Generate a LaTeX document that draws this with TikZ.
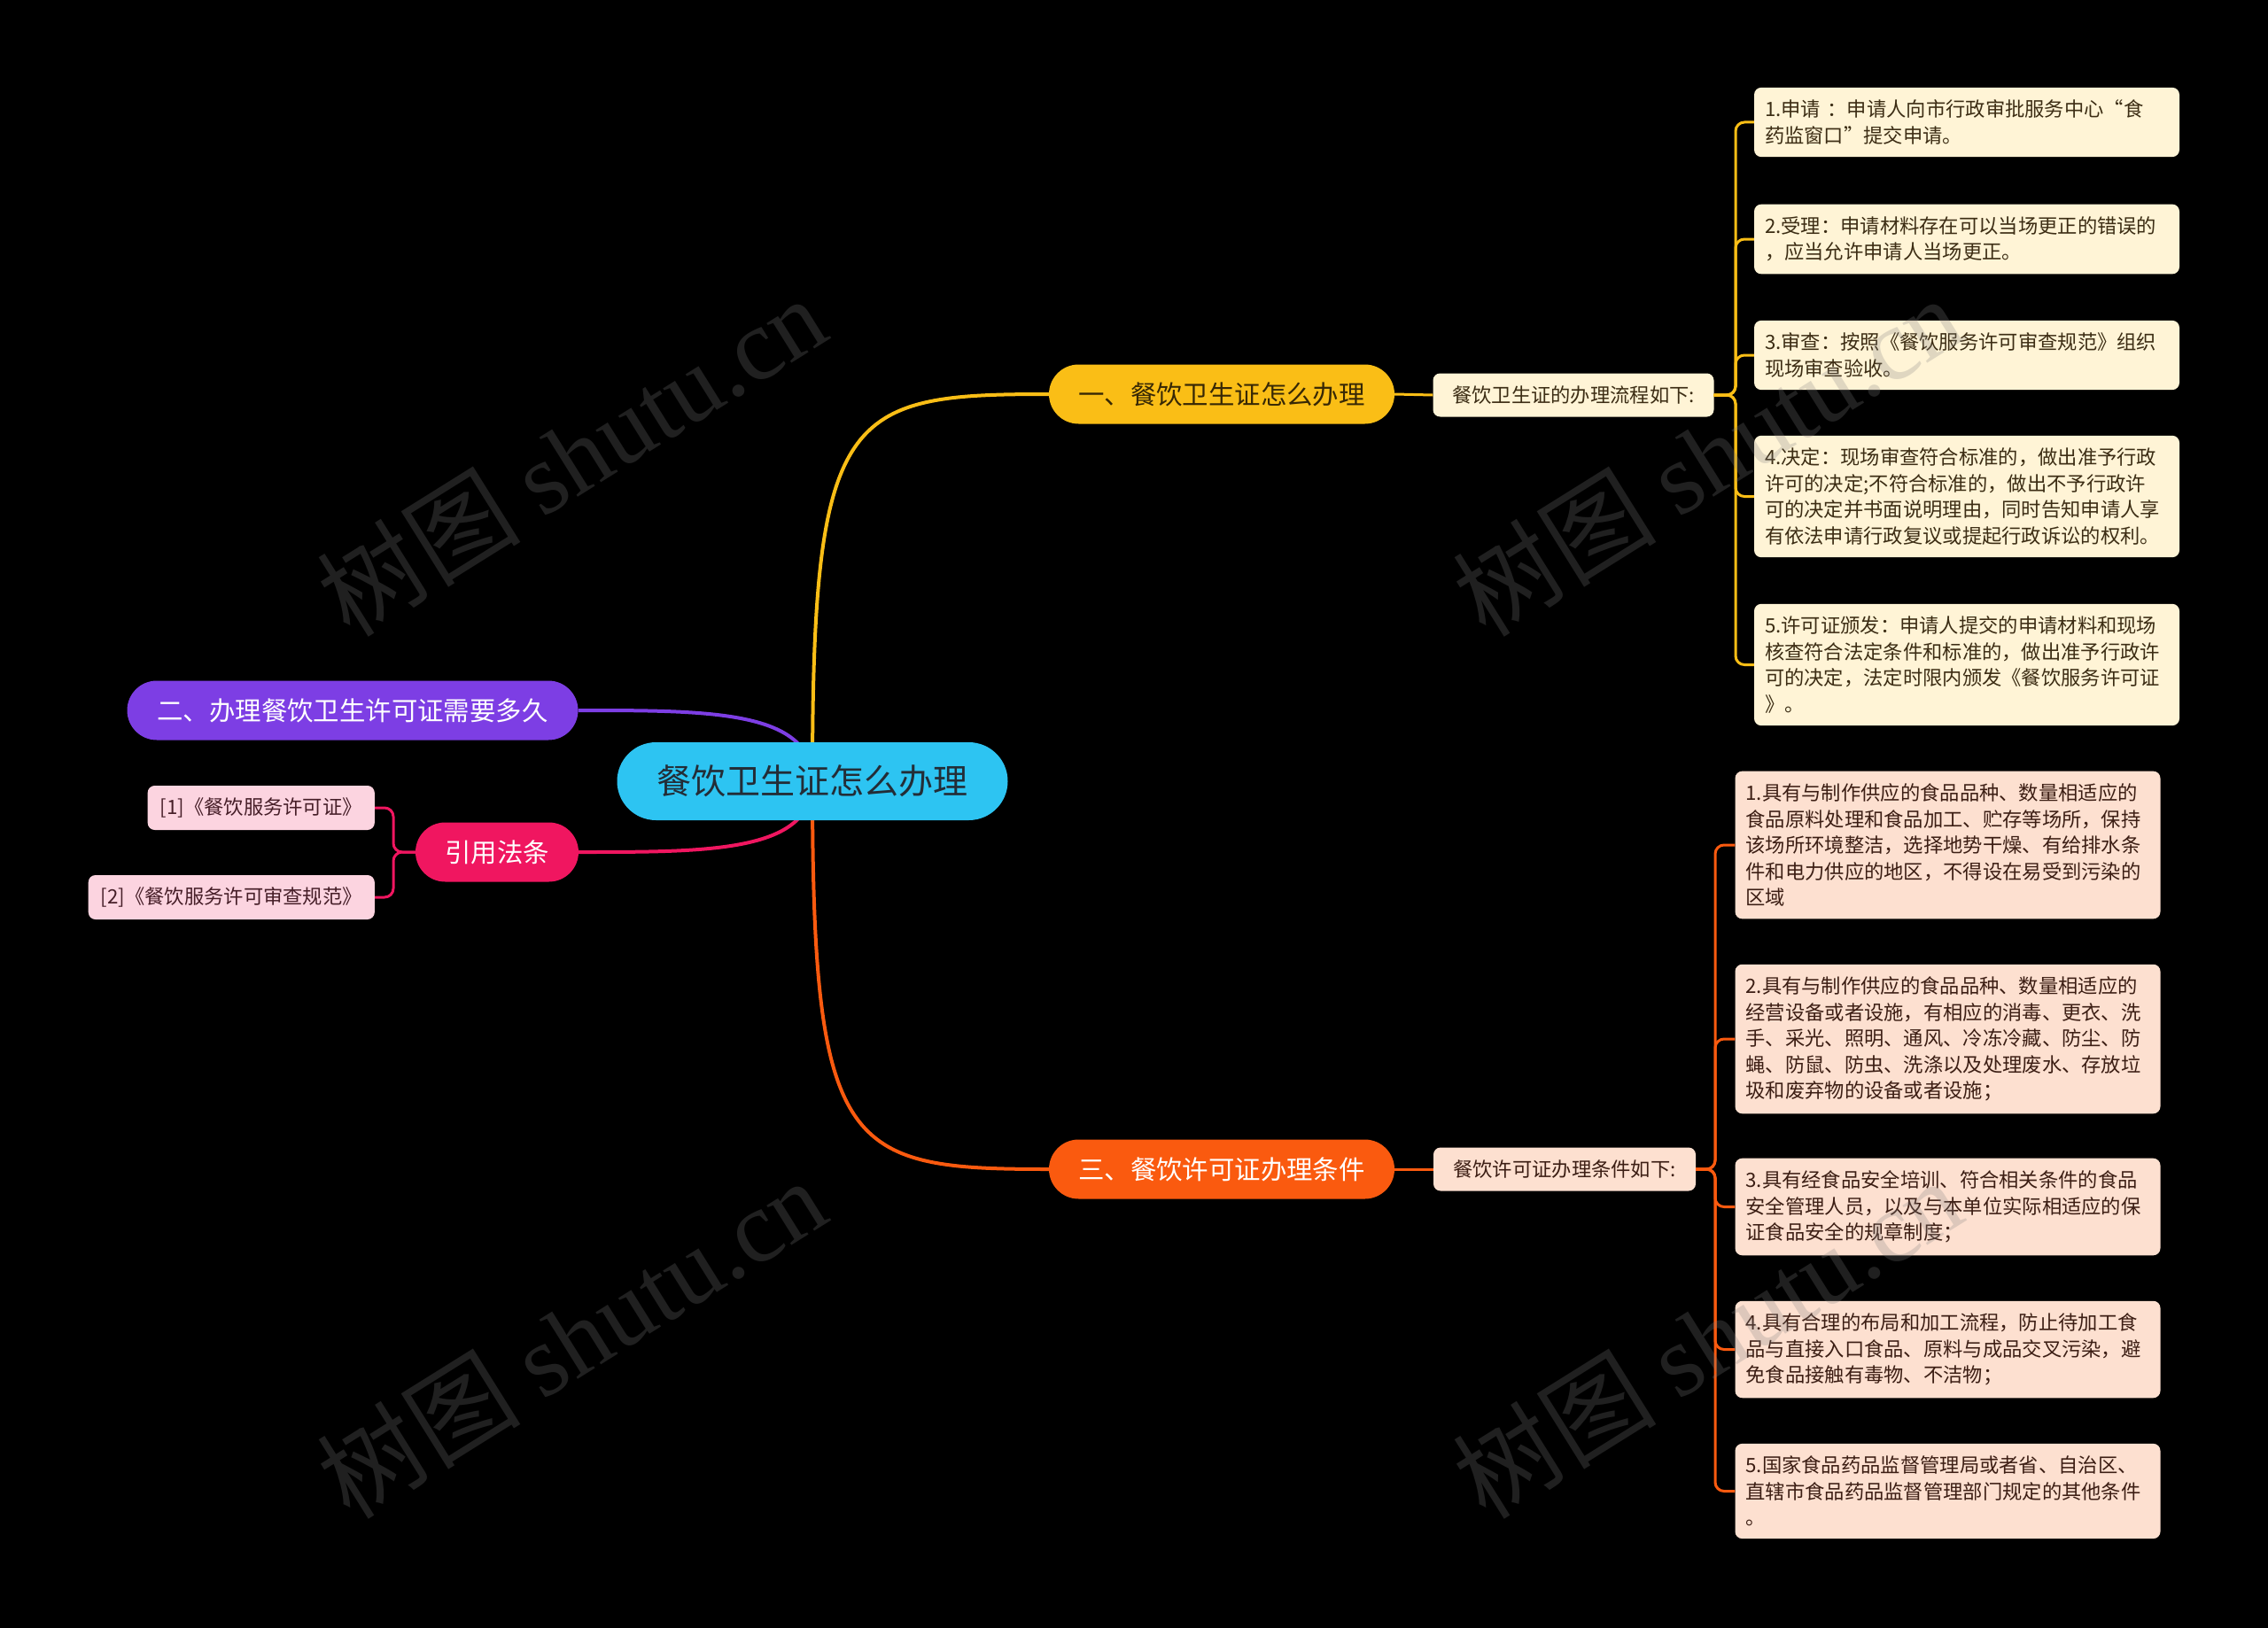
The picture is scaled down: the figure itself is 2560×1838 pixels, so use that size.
\documentclass[tikz,border=0pt]{standalone}
\usepackage{fontspec}
\setmainfont{Noto Sans CJK SC}
\newfontfamily\wmlatin{Liberation Serif}
\usetikzlibrary{backgrounds}

\begin{document}
\begin{tikzpicture}[x=1pt, y=1pt,
  pill/.style={rounded corners=33.5pt, minimum height=67pt, inner sep=0pt,
    font=\fontsize{29.4}{34}\selectfont},
  leaf/.style={rounded corners=8pt, text width=456pt, align=left,
    inner xsep=12pt, inner ysep=14pt, font=\fontsize{22.3}{29.5}\selectfont},
  note/.style={rounded corners=8pt, minimum height=49pt, inner xsep=14pt,
    font=\fontsize{22.3}{26}\selectfont},
  wm/.style={rotate=32, opacity=0.25, text=gray, font=\fontsize{115}{125}\selectfont}]
  \definecolor{hub}{RGB}{45,196,242}
  \definecolor{hubtxt}{RGB}{35,45,55}
  \definecolor{yel}{RGB}{250,190,22}
  \definecolor{yeltxt}{RGB}{55,40,5}
  \definecolor{cream}{RGB}{255,244,214}
  \definecolor{creamtxt}{RGB}{60,45,20}
  \definecolor{org}{RGB}{250,90,15}
  \definecolor{peach}{RGB}{253,224,208}
  \definecolor{peachtxt}{RGB}{60,30,20}
  \definecolor{vio}{RGB}{125,62,228}
  \definecolor{rose}{RGB}{240,22,96}
  \definecolor{blush}{RGB}{252,212,224}
  \definecolor{blushtxt}{RGB}{70,30,40}
  % --- canvas ---
  \useasboundingbox (0,0) rectangle (2560,-1838);
  \begin{scope}[on background layer]
    \fill[black] (0,0) rectangle (2560,-1838);
  \end{scope}
  % --- centre ---
  \node[pill, fill=hub, text=hubtxt, minimum width=441pt, minimum height=88pt,
    rounded corners=44pt, font=\fontsize{39}{44}\selectfont] (hub) at (917,-882) {餐饮卫生证怎么办理};
  % --- branch one: procedure ---
  \node[pill, fill=yel, text=yeltxt, minimum width=390pt] (proc) at (1379,-445) {一、餐饮卫生证怎么办理};
  \node[note, fill=cream, text=creamtxt, minimum width=317pt] (procnote) at (1776,-446) {餐饮卫生证的办理流程如下:};
  \node[leaf, fill=cream, text=creamtxt] (proc1) at (2220,-138)
    {1.申请 ：申请人向市行政审批服务中心“食\\药监窗口”提交申请。};
  \node[leaf, fill=cream, text=creamtxt] (proc2) at (2220,-270)
    {2.受理：申请材料存在可以当场更正的错误的\\，应当允许申请人当场更正。};
  \node[leaf, fill=cream, text=creamtxt] (proc3) at (2220,-401)
    {3.审查：按照《餐饮服务许可审查规范》组织\\现场审查验收。};
  \node[leaf, fill=cream, text=creamtxt] (proc4) at (2220,-560.5)
    {4.决定：现场审查符合标准的，做出准予行政\\许可的决定;不符合标准的，做出不予行政许\\可的决定并书面说明理由，同时告知申请人享\\有依法申请行政复议或提起行政诉讼的权利。};
  \node[leaf, fill=cream, text=creamtxt] (proc5) at (2220,-750.5)
    {5.许可证颁发：申请人提交的申请材料和现场\\核查符合法定条件和标准的，做出准予行政许\\可的决定，法定时限内颁发《餐饮服务许可证\\》。};
  % --- branch two: duration ---
  \node[pill, fill=vio, text=white, minimum width=509pt] (dur) at (398,-802) {二、办理餐饮卫生许可证需要多久};
  % --- cited laws ---
  \node[pill, fill=rose, text=white, minimum width=184pt] (law) at (561,-962) {引用法条};
  \node[note, fill=blush, text=blushtxt, minimum height=50pt, anchor=east] (law1) at (423,-912) {[1]《餐饮服务许可证》};
  \node[note, fill=blush, text=blushtxt, minimum height=50pt, anchor=east] (law2) at (423,-1013) {[2]《餐饮服务许可审查规范》};
  % --- branch three: conditions ---
  \node[pill, fill=org, text=white, minimum width=390pt] (cond) at (1379,-1320) {三、餐饮许可证办理条件};
  \node[note, fill=peach, text=peachtxt, minimum width=296pt] (condnote) at (1766,-1320) {餐饮许可证办理条件如下:};
  \node[leaf, fill=peach, text=peachtxt] (cond1) at (2198.5,-954)
    {1.具有与制作供应的食品品种、数量相适应的\\食品原料处理和食品加工、贮存等场所，保持\\该场所环境整洁，选择地势干燥、有给排水条\\件和电力供应的地区，不得设在易受到污染的\\区域};
  \node[leaf, fill=peach, text=peachtxt] (cond2) at (2198.5,-1173)
    {2.具有与制作供应的食品品种、数量相适应的\\经营设备或者设施，有相应的消毒、更衣、洗\\手、采光、照明、通风、冷冻冷藏、防尘、防\\蝇、防鼠、防虫、洗涤以及处理废水、存放垃\\圾和废弃物的设备或者设施；};
  \node[leaf, fill=peach, text=peachtxt] (cond3) at (2198.5,-1362.5)
    {3.具有经食品安全培训、符合相关条件的食品\\安全管理人员，以及与本单位实际相适应的保\\证食品安全的规章制度；};
  \node[leaf, fill=peach, text=peachtxt] (cond4) at (2198.5,-1523.5)
    {4.具有合理的布局和加工流程，防止待加工食\\品与直接入口食品、原料与成品交叉污染，避\\免食品接触有毒物、不洁物；};
  \node[leaf, fill=peach, text=peachtxt] (cond5) at (2198.5,-1683.5)
    {5.国家食品药品监督管理局或者省、自治区、\\直辖市食品药品监督管理部门规定的其他条件\\。};
  % --- bus points of the brackets ---
  \coordinate (procbus) at (1959,-446);
  \coordinate (condbus) at (1936,-1320);
  \coordinate (lawbus) at (444,-962);
  % --- connectors ---
  \begin{scope}[on background layer]
    \draw[yel, line width=4pt] (hub.center) .. controls +(0,420) and +(-230,0) .. (proc.west);
    \draw[org, line width=4pt] (hub.center) .. controls +(0,-420) and +(-230,0) .. (cond.west);
    \draw[vio, line width=4pt] (hub.center) .. controls +(0,80) and +(150,0) .. (dur.east);
    \draw[rose, line width=4pt] (hub.center) .. controls +(0,-80) and +(150,0) .. (law.east);
  \end{scope}
  \draw[yel, line width=3pt] (proc.east) -- (procnote.west);
  \draw[org, line width=3pt] (cond.east) -- (condnote.west);
  \draw[yel, line width=3pt, rounded corners=10pt] (procnote.east) -- (procbus) |- (proc1.west);
  \draw[yel, line width=3pt, rounded corners=10pt] (procnote.east) -- (procbus) |- (proc2.west);
  \draw[yel, line width=3pt, rounded corners=10pt] (procnote.east) -- (procbus) |- (proc3.west);
  \draw[yel, line width=3pt, rounded corners=10pt] (procnote.east) -- (procbus) |- (proc4.west);
  \draw[yel, line width=3pt, rounded corners=10pt] (procnote.east) -- (procbus) |- (proc5.west);
  \draw[org, line width=3pt, rounded corners=10pt] (condnote.east) -- (condbus) |- (cond1.west);
  \draw[org, line width=3pt, rounded corners=10pt] (condnote.east) -- (condbus) |- (cond2.west);
  \draw[org, line width=3pt, rounded corners=10pt] (condnote.east) -- (condbus) |- (cond3.west);
  \draw[org, line width=3pt, rounded corners=10pt] (condnote.east) -- (condbus) |- (cond4.west);
  \draw[org, line width=3pt, rounded corners=10pt] (condnote.east) -- (condbus) |- (cond5.west);
  \draw[rose, line width=3pt, rounded corners=10pt] (law.west) -- (lawbus) |- (law1.east);
  \draw[rose, line width=3pt, rounded corners=10pt] (law.west) -- (lawbus) |- (law2.east);
  % --- watermarks ---
  \node[wm] (wm1) at (645,-514) {树图 {\wmlatin shutu.cn}};
  \node[wm] (wm2) at (1927,-514) {树图 {\wmlatin shutu.cn}};
  \node[wm] (wm3) at (645,-1510) {树图 {\wmlatin shutu.cn}};
  \node[wm] (wm4) at (1927,-1510) {树图 {\wmlatin shutu.cn}};
\end{tikzpicture}
\end{document}
